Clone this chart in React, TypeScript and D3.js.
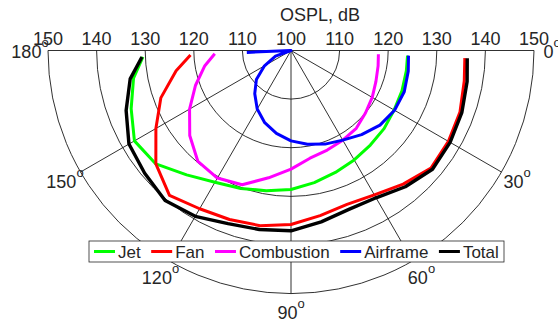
import { useMemo } from "react";
import * as d3 from "d3";

// polar angles (deg, 0 = right, 90 = bottom) at which levels were read
const angles = [2.5, 10, 20, 30, 40, 50, 60, 70, 80, 90, 100, 110, 120, 130, 140, 150, 160, 170, 177.5];

// OSPL in dB per source
const jet = [124.0, 124.1, 124.3, 124.5, 125.0, 125.4, 126.0, 126.7, 127.6, 128.6, 129.3, 130.2, 131.3, 133.4, 136.3, 137.2, 135.0, 132.9, 130.5];
const fan = [135.8, 136.2, 137.0, 137.4, 137.6, 135.9, 134.3, 133.7, 134.5, 135.8, 136.6, 137.0, 137.6, 138.9, 136.3, 132.1, 128.5, 124.0, 120.7];
const combustion = [118.0, 118.2, 118.6, 119.3, 120.0, 120.9, 121.3, 121.8, 122.5, 124.4, 126.6, 129.4, 130.3, 129.8, 127.2, 124.1, 120.9, 118.0, 115.7];
const airframe = [124.2, 124.5, 124.8, 124.6, 123.9, 122.6, 121.3, 120.5, 119.6, 118.6, 117.3, 115.8, 113.9, 111.6, 109.3, 106.3, 103.4, 100.0, 109.1];
const total = [136.3, 136.8, 137.4, 137.8, 138.0, 136.6, 135.0, 134.8, 135.8, 137.1, 137.4, 137.9, 139.4, 140.3, 139.3, 138.5, 136.1, 133.6, 130.7];

const seriesNames = ["Jet", "Fan", "Combustion", "Airframe", "Total"];
const seriesValues = [jet, fan, combustion, airframe, total];
const seriesColors = ["#00ff00", "#ff0000", "#ff00ff", "#0000ff", "#000000"];

const rTicks = [110, 120, 130, 140, 150];
const rTickLabels = [150, 140, 130, 120, 110, 100, 110, 120, 130, 140, 150];
const spokeAngles = [30, 60, 90, 120, 150];
const angleLabels = [0, 30, 60, 90, 120, 150, 180];

const W = 558;
const H = 324;
const cx = 291;
const cy = 50.5;
const R = 243;
const FONT = "'Liberation Sans', Arial, Helvetica, sans-serif";
const TXT = "#262626";

export default function App() {
  const r = d3.scaleLinear().domain([100, 150]).range([0, R]).clamp(true);
  const rad = (deg: number) => (deg * Math.PI) / 180;

  const line = d3
    .lineRadial<number>()
    .angle((_, i) => rad(angles[i] + 90))
    .radius((d) => r(d));

  const ringPath = (v: number) => {
    const p = d3.path();
    p.moveTo(r(v), 0);
    p.arc(0, 0, r(v), 0, Math.PI);
    return p.toString();
  };

  // legend layout from measured text widths
  const legend = useMemo(() => {
    const ctx = document.createElement("canvas").getContext("2d")!;
    ctx.font = `17px ${FONT}`;
    let x = 94;
    return seriesNames.map((name) => {
      const item = { name, x, tx: x + 24 };
      x = item.tx + ctx.measureText(name).width + 10.5;
      return item;
    });
  }, []);

  const tickX = (i: number) => (i < 5 ? -r(rTickLabels[i]) : r(rTickLabels[i]));

  return (
    <svg width={W} height={H} style={{ position: "absolute", left: 0, top: 0, background: "#fff" }} fontFamily={FONT}>
      <g transform={`translate(${cx},${cy})`}>
        {rTicks.map((v) => (
          <path key={v} d={ringPath(v)} fill="none" stroke="#1a1a1a" strokeWidth={0.9} />
        ))}
        <line x1={-R} x2={R} y1={0} y2={0} stroke="#1a1a1a" strokeWidth={0.9} />
        {spokeAngles.map((a) => (
          <line key={a} x1={0} y1={0} x2={R * Math.cos(rad(a))} y2={R * Math.sin(rad(a))} stroke="#1a1a1a" strokeWidth={0.9} />
        ))}

        {seriesValues.map((vals, i) => (
          <path
            key={seriesNames[i]}
            d={line(vals) || ""}
            fill="none"
            stroke={seriesColors[i]}
            strokeWidth={i === 4 ? 3.4 : 3}
            strokeLinejoin="round"
          />
        ))}

        {rTickLabels.map((v, i) => (
          <text key={i} x={tickX(i)} y={-6} textAnchor="middle" fontSize={18} fill={TXT}>
            {v}
          </text>
        ))}

        {angleLabels.map((a) => {
          const lr = 261;
          return (
            <text
              key={a}
              x={lr * Math.cos(rad(a))}
              y={lr * Math.sin(rad(a)) + 7}
              textAnchor="middle"
              fontSize={18}
              fill={TXT}
            >
              {a}
              <tspan fontSize={13} dy={-11}>o</tspan>
            </text>
          );
        })}
      </g>

      <text x={280} y={21} fontSize={18} fill={TXT}>
        OSPL, dB
      </text>

      <rect x={89} y={241} width={415} height={21} fill="#fff" stroke="#262626" strokeWidth={0.8} />
      {legend.map((d, i) => (
        <g key={d.name}>
          <line x1={d.x} x2={d.x + 21} y1={251.5} y2={251.5} stroke={seriesColors[i]} strokeWidth={3} />
          <text x={d.tx} y={257.5} fontSize={17} fill={TXT}>
            {d.name}
          </text>
        </g>
      ))}
    </svg>
  );
}
